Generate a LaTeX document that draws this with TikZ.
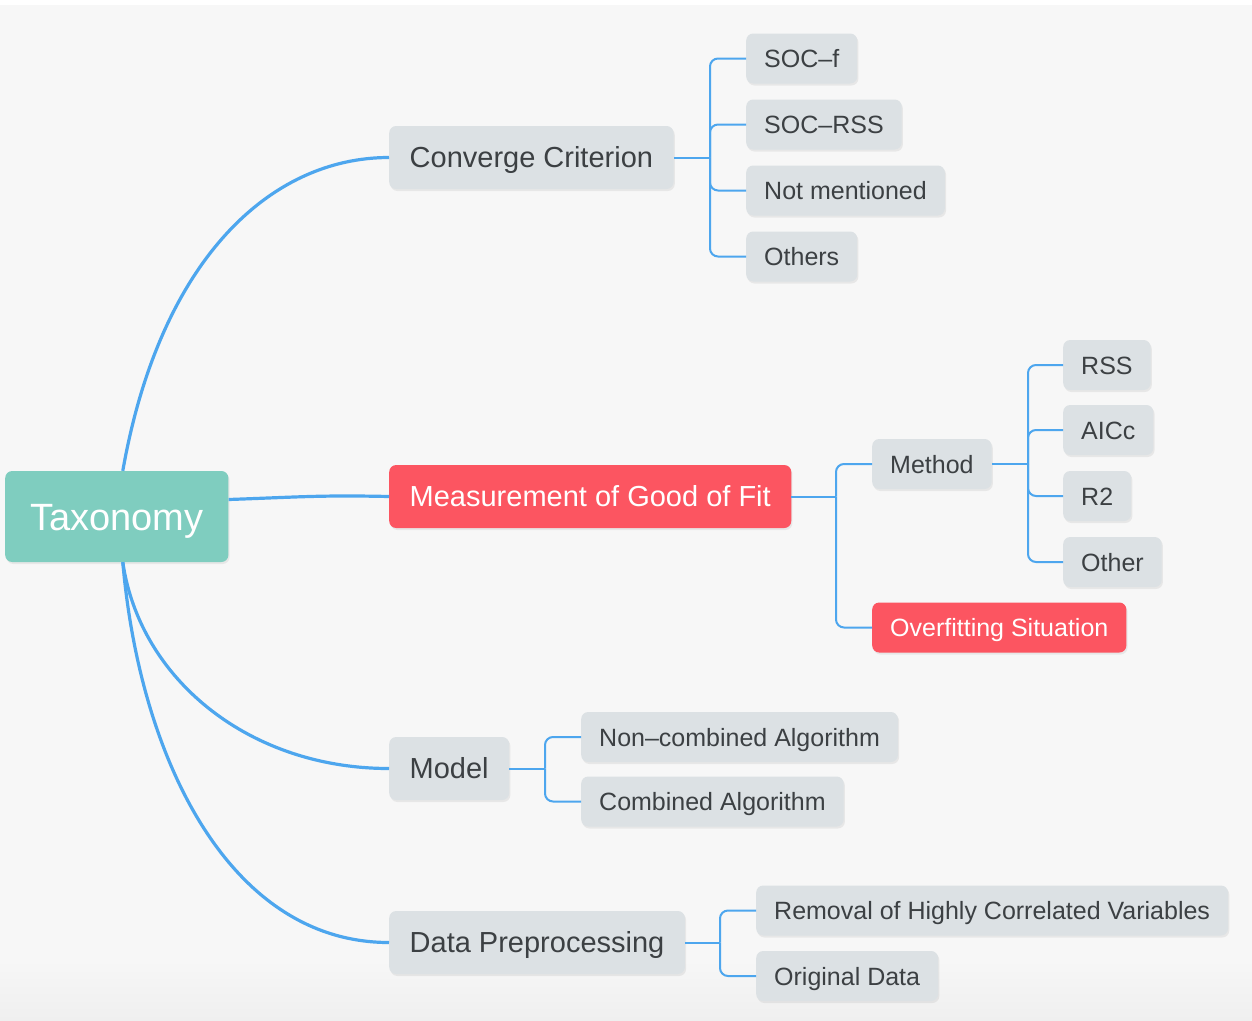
\documentclass[tikz,border=0pt]{standalone}
\usepackage{fontspec}
\setmainfont{Liberation Sans}
\usetikzlibrary{shadows}
\definecolor{bg}{RGB}{247,247,247}
\definecolor{bgdark}{RGB}{239,239,239}
\definecolor{nodegray}{RGB}{220,225,228}
\definecolor{ink}{RGB}{60,64,67}
\definecolor{rootteal}{RGB}{127,205,191}
\definecolor{hotred}{RGB}{252,85,97}
\definecolor{link}{RGB}{77,166,238}
\begin{document}
\begin{tikzpicture}[x=1pt,y=-1pt,
  box/.style={rounded corners=7pt, anchor=west, text depth=0pt,
    drop shadow={shadow xshift=1.2pt, shadow yshift=-2pt, opacity=0.13}},
  root/.style={box, fill=rootteal, text=white, inner xsep=25pt, minimum height=91pt,
    text height=27.5pt, font=\fontsize{38}{44}\selectfont},
  topic/.style={box, fill=nodegray, text=ink, inner xsep=20.5pt, minimum height=63pt,
    text height=20.8pt, font=\fontsize{29}{34}\selectfont},
  leaf/.style={box, fill=nodegray, text=ink, inner xsep=18pt, minimum height=50pt,
    text height=18pt, font=\fontsize{25}{30}\selectfont},
  alert/.style={fill=hotred, text=white},
  trunk/.style={draw=link, line width=3.2pt},
  branch/.style={draw=link, line width=2pt},
  elbow/.style={branch, rounded corners=8pt}]

% canvas
\fill[white] (0,0) rectangle (1252,1020);
\fill[bg] (0,5) rectangle (1252,1020);
\shade[top color=bg, bottom color=bgdark] (0,960) rectangle (1252,1020);
\useasboundingbox (0,0) rectangle (1252,1020);

% junction columns of the elbow connectors
\coordinate (jc) at (710,0);
\coordinate (jm) at (836,0);
\coordinate (jt) at (1028,0);
\coordinate (jo) at (545,0);
\coordinate (jd) at (720,0);

% root
\node[root] (tax) at (5,516.5) {Taxonomy};

% first level
\node[topic] (cc) at (389,157.5) {Converge Criterion};
\node[topic, alert] (meas) at (389,496.5) {Measurement of Good of Fit};
\node[topic] (model) at (389,768.5) {Model};
\node[topic] (data) at (389,942.5) {Data Preprocessing};

% convergence criteria
\node[leaf] (socf) at (746,58.5) {SOC–f};
\node[leaf] (socrss) at (746,124.5) {SOC–RSS};
\node[leaf] (notm) at (746,190.5) {Not mentioned};
\node[leaf] (others) at (746,256.5) {Others};

% goodness of fit
\node[leaf] (method) at (872,464) {Method};
\node[leaf, alert] (over) at (872,627.5) {Overfitting Situation};
\node[leaf] (rss) at (1063,365) {RSS};
\node[leaf] (aicc) at (1063,430) {AICc};
\node[leaf] (rtwo) at (1063,496) {R2};
\node[leaf] (other) at (1063,562) {Other};

% models
\node[leaf] (noncomb) at (581,737) {Non–combined Algorithm};
\node[leaf] (comb) at (581,801.5) {Combined Algorithm};

% preprocessing
\node[leaf] (removal) at (756,910.5) {Removal of Highly Correlated Variables};
\node[leaf] (orig) at (756,976) {Original Data};

% curved links from the root
\draw[trunk] ([xshift=6pt]tax.north) .. controls (160,260) and (270,157.5) .. (cc.west);
\draw[trunk] ([yshift=17pt]tax.east) .. controls (300,497) and (320,495) .. (meas.west);
\draw[trunk] ([xshift=6pt]tax.south) .. controls (140,680) and (250,768.5) .. (model.west);
\draw[trunk] ([xshift=6pt]tax.south) .. controls (140,760) and (230,942.5) .. (data.west);

% elbow links: Converge Criterion
\draw[branch] (cc.east) -- (cc.east -| jc);
\foreach \c in {socf,socrss,notm,others}
  \draw[elbow] (cc.east -| jc) |- (\c.west);

% elbow links: Measurement of Good of Fit
\draw[branch] (meas.east) -- (meas.east -| jm);
\foreach \c in {method,over}
  \draw[elbow] (meas.east -| jm) |- (\c.west);

% elbow links: Method
\draw[branch] (method.east) -- (method.east -| jt);
\foreach \c in {rss,aicc,rtwo,other}
  \draw[elbow] (method.east -| jt) |- (\c.west);

% elbow links: Model
\draw[branch] (model.east) -- (model.east -| jo);
\foreach \c in {noncomb,comb}
  \draw[elbow] (model.east -| jo) |- (\c.west);

% elbow links: Data Preprocessing
\draw[branch] (data.east) -- (data.east -| jd);
\foreach \c in {removal,orig}
  \draw[elbow] (data.east -| jd) |- (\c.west);
\end{tikzpicture}
\end{document}
